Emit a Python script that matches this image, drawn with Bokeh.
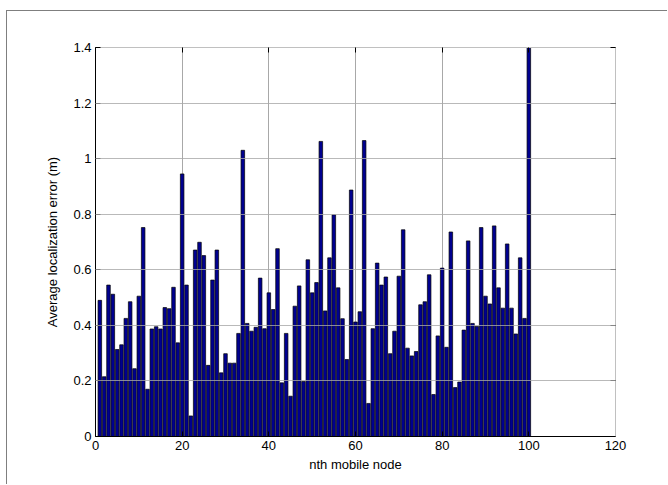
from bokeh.plotting import figure
from bokeh.models import LinearAxis, FixedTicker, CustomJSTickFormatter, Range1d
from bokeh.embed import file_html
from bokeh.resources import INLINE

# ---- data ----
nodes = list(range(1, 101))
errors = [
    0.49, 0.215, 0.545, 0.512, 0.313, 0.330, 0.425, 0.485, 0.244, 0.505,
    0.752, 0.170, 0.387, 0.395, 0.387, 0.464, 0.460, 0.537, 0.337, 0.945,
    0.545, 0.074, 0.671, 0.699, 0.651, 0.256, 0.563, 0.671, 0.229, 0.298,
    0.264, 0.264, 0.371, 1.030, 0.407, 0.379, 0.393, 0.570, 0.388, 0.517,
    0.457, 0.676, 0.193, 0.371, 0.145, 0.469, 0.542, 0.198, 0.636, 0.517,
    0.554, 1.062, 0.452, 0.643, 0.798, 0.535, 0.424, 0.277, 0.887, 0.412,
    0.449, 1.065, 0.119, 0.388, 0.624, 0.545, 0.574, 0.298, 0.379, 0.577,
    0.744, 0.318, 0.290, 0.306, 0.474, 0.485, 0.582, 0.151, 0.362, 0.606,
    0.321, 0.736, 0.176, 0.196, 0.383, 0.704, 0.407, 0.396, 0.752, 0.505,
    0.477, 0.758, 0.535, 0.462, 0.693, 0.462, 0.369, 0.643, 0.425, 1.42,
]
x_ticks = [0, 20, 40, 60, 80, 100, 120]
y_ticks = [0, 0.2, 0.4, 0.6, 0.8, 1.0, 1.2, 1.4]
x_label = "nth mobile node"
y_label = "Average localization error (m)"

FONT = "Liberation Sans"

p = figure(width=661, height=474, output_backend="svg", toolbar_location=None,
           x_range=Range1d(0, 120), y_range=Range1d(0, 1.4),
           min_border_left=88, min_border_right=53, min_border_top=36, min_border_bottom=49,
           background_fill_color="white", border_fill_color="white")
p.margin = (10, 0, 0, 6)
p.styles = {"border-left": "1px solid #7f7f7f", "border-top": "1px solid #7f7f7f"}
p.outline_line_color = None

p.vbar(x=nodes, top=errors, width=0.82, bottom=0,
       fill_color="#00008F", line_color="black", line_width=0.7)

fmt = CustomJSTickFormatter(code="return String(Math.round(tick*10)/10);")
blank = CustomJSTickFormatter(code="return '';")

def style_axis(ax, labels=True, line_color="black"):
    ax.axis_line_color = line_color
    ax.major_tick_in = 5
    ax.major_tick_out = 0
    ax.minor_tick_line_color = None
    ax.major_tick_line_color = "black"
    if labels:
        ax.major_label_text_font = FONT
        ax.major_label_text_font_size = "13px"
        ax.major_label_text_color = "black"
        ax.axis_label_text_font = FONT
        ax.axis_label_text_font_size = "13px"
        ax.axis_label_text_font_style = "normal"
        ax.axis_label_text_color = "black"
    else:
        ax.formatter = blank
        ax.major_label_standoff = 0

xa = p.xaxis[0]
xa.ticker = FixedTicker(ticks=x_ticks)
xa.axis_label = x_label
style_axis(xa)
xa.major_label_standoff = 4
xa.axis_label_standoff = 4

ya = p.yaxis[0]
ya.ticker = FixedTicker(ticks=y_ticks)
ya.formatter = fmt
ya.axis_label = y_label
style_axis(ya)
ya.major_label_standoff = 4
ya.axis_label_standoff = 10

ra = LinearAxis(ticker=FixedTicker(ticks=y_ticks))
style_axis(ra, labels=False, line_color="#c0c0c0")
p.add_layout(ra, "right")
ta = LinearAxis(ticker=FixedTicker(ticks=x_ticks))
style_axis(ta, labels=False, line_color="#c0c0c0")
p.add_layout(ta, "above")

p.xgrid.ticker = FixedTicker(ticks=x_ticks)
p.ygrid.ticker = FixedTicker(ticks=y_ticks)
p.xgrid[0].grid_line_color = "#a8a8a8"
p.xgrid[0].level = "underlay"
p.ygrid[0].grid_line_color = "#a8a8a8"
p.ygrid[0].grid_line_alpha = 0.8
p.ygrid[0].level = "overlay"

open("out.html", "w").write(file_html(p, INLINE))
